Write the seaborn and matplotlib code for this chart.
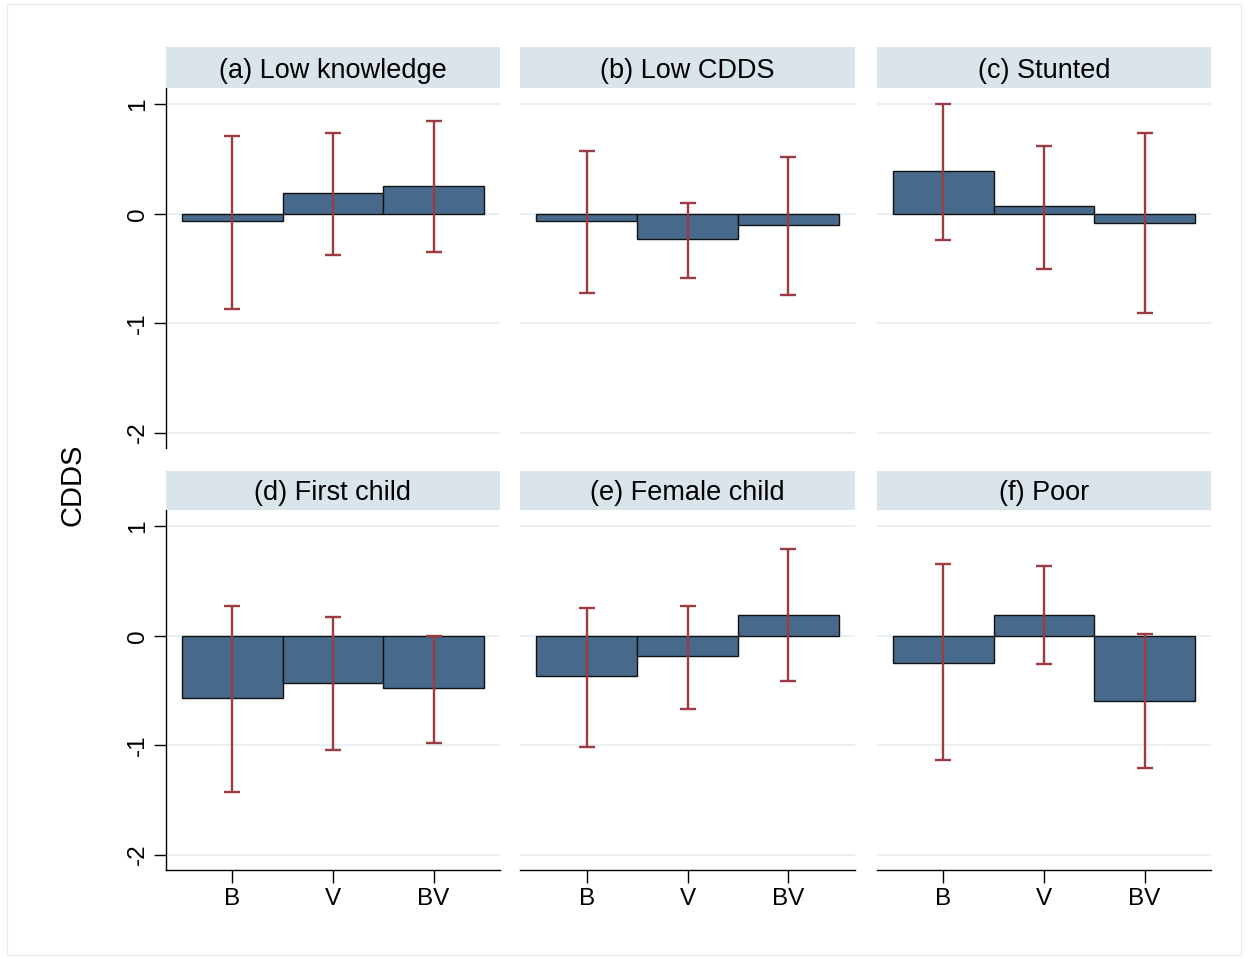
import matplotlib
matplotlib.use("Agg")
import matplotlib.pyplot as plt
import seaborn as sns
import pandas as pd
import numpy as np
from matplotlib.patches import Rectangle

sns.set_theme(style="white")
plt.rcParams['font.family'] = ['Liberation Sans', 'DejaVu Sans']

# ---- data ----
panels = ["(a) Low knowledge", "(b) Low CDDS", "(c) Stunted",
          "(d) First child", "(e) Female child", "(f) Poor"]
groups = ["B", "V", "BV"]

coef_a = [-0.07, 0.19, 0.25]
lo_a = [-0.87, -0.38, -0.35]
hi_a = [0.71, 0.74, 0.845]

coef_b = [-0.07, -0.23, -0.10]
lo_b = [-0.72, -0.59, -0.74]
hi_b = [0.57, 0.10, 0.52]

coef_c = [0.39, 0.074, -0.088]
lo_c = [-0.24, -0.50, -0.91]
hi_c = [1.00, 0.62, 0.735]

coef_d = [-0.566, -0.432, -0.478]
lo_d = [-1.43, -1.04, -0.98]
hi_d = [0.275, 0.168, 0.0]

coef_e = [-0.37, -0.184, 0.193]
lo_e = [-1.02, -0.673, -0.41]
hi_e = [0.254, 0.27, 0.79]

coef_f = [-0.245, 0.193, -0.594]
lo_f = [-1.138, -0.257, -1.205]
hi_f = [0.654, 0.636, 0.016]

coefs = [coef_a, coef_b, coef_c, coef_d, coef_e, coef_f]
los = [lo_a, lo_b, lo_c, lo_d, lo_e, lo_f]
his = [hi_a, hi_b, hi_c, hi_d, hi_e, hi_f]

rows = []
for p, c, l, h in zip(panels, coefs, los, his):
    for g, cv, lv, hv in zip(groups, c, l, h):
        rows.append(dict(panel=p, group=g, coef=cv, lo=lv, hi=hv))
df = pd.DataFrame(rows)

yticks = [1, 0, -1, -2]
ytick_labels = ["1", "0", "-1", "-2"]

# ---- styling ----
BAR = "#476a8c"
ERR = "#9e3a42"
STRIP = "#d9e5eb"
GRID = "#e9f0f2"

W, H = 1249, 959
fig = plt.figure(figsize=(W / 100, H / 100), dpi=100)
fig.patch.set_facecolor("white")
fig.patches.append(Rectangle((7 / W, 4 / H), (1241 - 7) / W, (955 - 4) / H,
                             transform=fig.transFigure, fill=False,
                             edgecolor="#e6edf0", linewidth=1.0))

col_x = [(166, 500), (520, 855), (877, 1211)]
row_y = [((47, 88), (88, 448)), ((471, 510), (510, 870))]

def fx(px):
    return px / W

def fy(py):
    return 1 - py / H

for i, p in enumerate(panels):
    r, c = divmod(i, 3)
    x0, x1 = col_x[c]
    (s0, s1), (a0, a1) = row_y[r]
    ax = fig.add_axes([fx(x0), fy(a1), fx(x1 - x0), (a1 - a0) / H])
    sub = df[df.panel == p]
    sns.barplot(data=sub, x="group", y="coef", order=groups, ax=ax,
                width=1.0, color=BAR, saturation=1, edgecolor="#111111",
                linewidth=1.0, errorbar=None, zorder=2)
    pos = np.arange(len(groups))
    ax.errorbar(pos, sub["coef"].values,
                yerr=[sub["coef"].values - sub["lo"].values,
                      sub["hi"].values - sub["coef"].values],
                fmt="none", ecolor=ERR, elinewidth=1.7, capsize=5.5,
                capthick=1.7, zorder=3)
    ax.set_xlim(-0.66, 2.66)
    ax.set_ylim(-2.14, 1.15)
    ax.set_yticks(yticks)
    for yv in yticks:
        ax.axhline(yv, color=GRID, linewidth=1.5, zorder=0)
    ax.set_xlabel("")
    ax.set_ylabel("")
    for s in ["top", "right"]:
        ax.spines[s].set_visible(False)
    if c == 0:
        ax.spines["left"].set_color("black")
        ax.spines["left"].set_linewidth(1.0)
        ax.set_yticklabels(ytick_labels, rotation=90, va="center")
        ax.tick_params(axis="y", left=True, length=9, width=1.0, color="black",
                       pad=3, labelsize=17.5, labelcolor="black")
    else:
        ax.spines["left"].set_visible(False)
        ax.set_yticklabels([])
        ax.tick_params(axis="y", left=False, length=0)
    if r == 1:
        ax.spines["bottom"].set_color("black")
        ax.spines["bottom"].set_linewidth(1.0)
        ax.set_xticks(pos)
        ax.set_xticklabels(groups)
        ax.tick_params(axis="x", bottom=True, length=9, width=1.0,
                       color="black", pad=4, labelsize=17.5,
                       labelcolor="black")
    else:
        ax.spines["bottom"].set_visible(False)
        ax.set_xticks([])
    ax.set_facecolor("white")
    # strip
    sax = fig.add_axes([fx(x0), fy(s1), fx(x1 - x0), (s1 - s0) / H])
    sax.set_facecolor(STRIP)
    sax.set_xticks([])
    sax.set_yticks([])
    for s in sax.spines.values():
        s.set_visible(False)
    sax.text(0.5, 0.5, p, ha="center", va="center_baseline", fontsize=19.5,
             color="black", transform=sax.transAxes)

fig.text(fx(72), fy(485), "CDDS", rotation=90, ha="center", va="center",
         fontsize=21, color="black")

fig.savefig("out.png", dpi=100, facecolor="white")
